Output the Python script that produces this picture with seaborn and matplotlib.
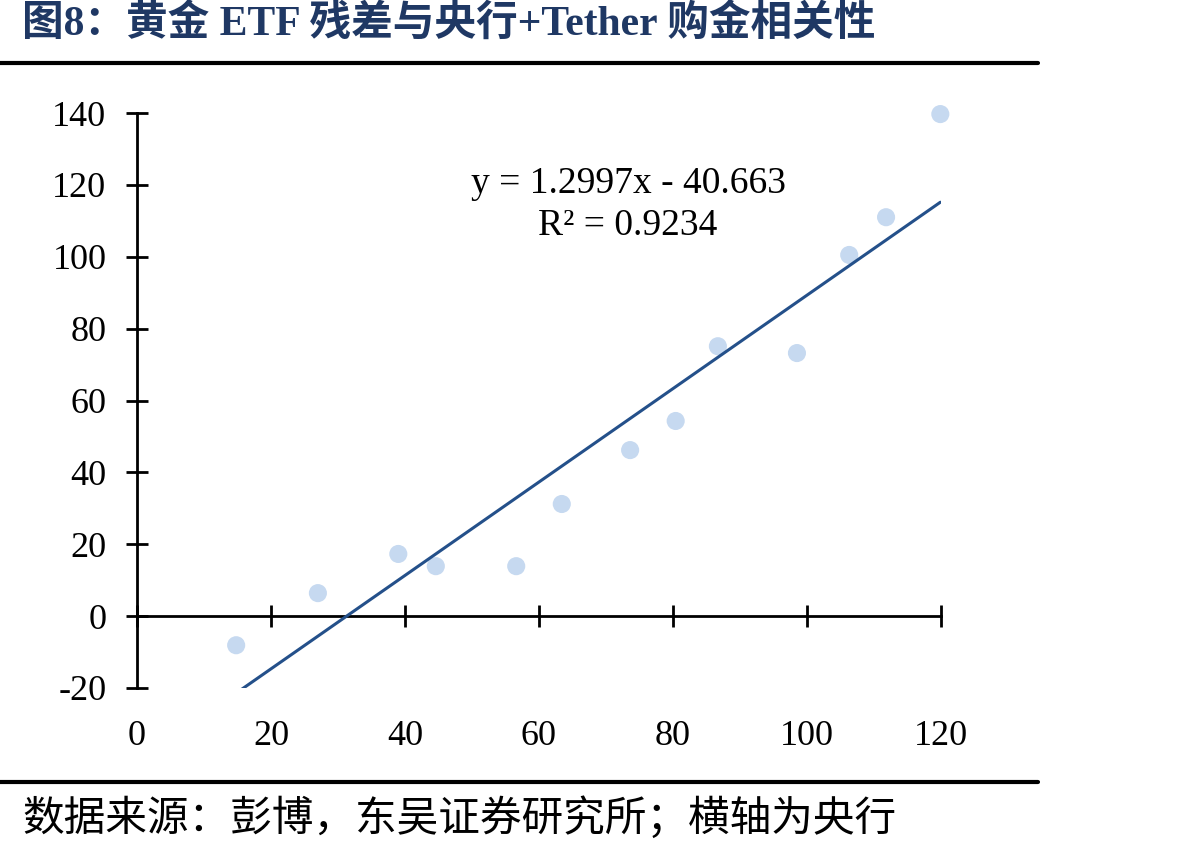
import numpy as np
import matplotlib
matplotlib.use('Agg')
import matplotlib.pyplot as plt
from matplotlib.lines import Line2D
import seaborn as sns

# values
cb_tether = [14.8, 27.0, 39.0, 44.6, 56.6, 63.4, 73.6, 80.4, 86.7, 98.5, 106.3, 111.8, 119.9]
etf_resid = [-8.1, 6.4, 17.3, 13.9, 13.9, 31.2, 46.2, 54.3, 75.1, 73.2, 100.5, 111.0, 139.7]
slope, intercept, r2 = 1.2997, -40.663, 0.9234
x_ticks = [0, 20, 40, 60, 80, 100, 120]
y_ticks = [-20, 0, 20, 40, 60, 80, 100, 120, 140]

title = '图8：黄金 ETF 残差与央行+Tether 购金相关性'
source = '数据来源：彭博，东吴证券研究所；横轴为央行'

sns.set_theme(style='white')
plt.rcParams['font.family'] = ['Liberation Serif', 'Noto Sans CJK SC', 'DejaVu Sans']

fig = plt.figure(figsize=(11.92, 8.52), dpi=100)
ax = fig.add_axes([137 / 1192, 1 - 688 / 852, 804 / 1192, 575 / 852])

sns.scatterplot(x=cb_tether, y=etf_resid, ax=ax, s=170, color='#C6D9F0',
                edgecolor='none', zorder=2, clip_on=False)

# linear trend line
xs = np.array([min(cb_tether), max(cb_tether)])
ax.plot(xs, slope * xs + intercept, color='#24508A', lw=2.2, zorder=3)

ax.set_xlim(0, 120)
ax.set_ylim(-20, 140)
ax.set_xticks(x_ticks)
ax.set_yticks(y_ticks)
ax.set_xticklabels([str(v) for v in x_ticks])
ax.set_yticklabels([str(v) for v in y_ticks])

for s in ['top', 'right']:
    ax.spines[s].set_visible(False)
ax.spines['bottom'].set_position(('data', 0))
ax.spines['left'].set_position(('data', 0))
for s in ['bottom', 'left']:
    ax.spines[s].set_linewidth(2.0)
    ax.spines[s].set_color('black')

ax.tick_params(axis='both', direction='inout', length=16, width=2.0,
               color='black', labelsize=26, labelcolor='black')
ax.tick_params(axis='x', bottom=True, pad=67)
ax.tick_params(axis='y', left=True, pad=14)
ax.grid(False)

ax.text(73.3, 114.4, f'y = {slope}x - {abs(intercept)}\nR² = {r2}',
        ha='center', va='center', fontsize=27, linespacing=1.3,
        multialignment='center', color='black')

# title, rules and source note
fig.text(22 / 1192, 1 - 24 / 852, title, ha='left', va='center', fontsize=30,
         fontweight='bold', color='#1F3864',
         family=['Liberation Serif', 'Noto Sans CJK SC'])
fig.add_artist(Line2D([0, 1038 / 1192], [1 - 63 / 852] * 2, color='black', lw=3))
fig.add_artist(Line2D([0, 1038 / 1192], [1 - 782 / 852] * 2, color='black', lw=3))
fig.text(22 / 1192, 1 - 818 / 852, source, ha='left', va='center', fontsize=30,
         color='black', family=['Noto Sans CJK SC', 'DejaVu Sans'])

fig.savefig('out.png', dpi=100)
